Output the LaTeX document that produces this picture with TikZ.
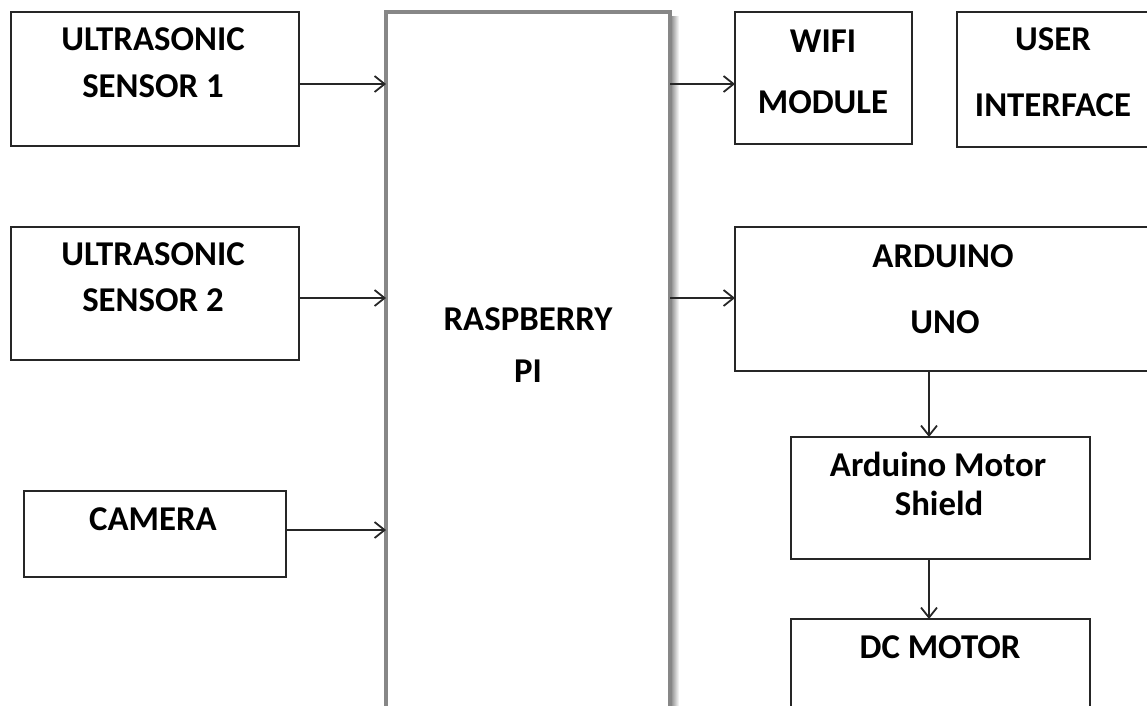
\documentclass[tikz,border=0pt]{standalone}
\usepackage{fontspec}
\setmainfont{Carlito}
\usetikzlibrary{arrows.meta}
\begin{document}
\begin{tikzpicture}[x=1pt,y=-1pt,
  blk/.style={draw=black!85,line width=2pt,fill=white,inner sep=0pt,outer sep=0pt,anchor=north west},
  pibox/.style={draw=black!47,line width=3.5pt,fill=white,inner sep=0pt,outer sep=0pt,anchor=north west},
  lbl/.style={font=\bfseries\fontsize{34.8}{40}\selectfont,anchor=base,inner sep=0pt},
  conn/.style={draw=black!85,line width=1.8pt,-{Straight Barb[length=10pt,width=16pt,line width=1.8pt]}}
]
\useasboundingbox (0,0) rectangle (1147,705);
\clip (0,0) rectangle (1147,705);
% shadow of the Raspberry Pi box
\shade[left color=black!45,right color=white] (671,16) rectangle (679,720);
% boxes
\node[pibox,minimum width=284,minimum height=720] (rpi) at (386,12) {};
\node[blk,minimum width=288,minimum height=134] (us1) at (11,12) {};
\node[blk,minimum width=288,minimum height=133] (us2) at (11,227) {};
\node[blk,minimum width=262,minimum height=86] (cam) at (24,491) {};
\node[blk,minimum width=177,minimum height=132] (wifi) at (735,12) {};
\node[blk,minimum width=210,minimum height=135] (ui) at (957,12) {};
\node[blk,minimum width=430,minimum height=144] (ard) at (735,227) {};
\node[blk,minimum width=299,minimum height=122] (shield) at (791,437) {};
\node[blk,minimum width=299,minimum height=110] (dcm) at (791,619) {};
% labels
\node[lbl] (us1a) at (153,50) {ULTRASONIC};
\node[lbl] (us1b) at (153,97) {SENSOR 1};
\node[lbl] (us2a) at (153,265) {ULTRASONIC};
\node[lbl] (us2b) at (153,311) {SENSOR 2};
\node[lbl] (camt) at (153,530) {CAMERA};
\node[lbl] (rpia) at (528,330) {RASPBERRY};
\node[lbl] (rpib) at (528,382) {PI};
\node[lbl] (wifia) at (823,52) {WIFI};
\node[lbl] (wifib) at (823,113) {MODULE};
\node[lbl] (uia) at (1053,50) {USER};
\node[lbl] (uib) at (1053,116) {INTERFACE};
\node[lbl] (arda) at (943,267) {ARDUINO};
\node[lbl] (ardb) at (945,333) {UNO};
\node[lbl] (shta) at (938,476) {Arduino Motor};
\node[lbl] (shtb) at (939,515) {Shield};
\node[lbl] (dcmt) at (940,658) {DC MOTOR};
% connectors
\draw[conn] ([yshift=-5pt]us1.east) -- ([yshift=-5pt]us1.east -| rpi.west);
\draw[conn] ([yshift=-4.5pt]us2.east) -- ([yshift=-4.5pt]us2.east -| rpi.west);
\draw[conn] ([yshift=4pt]cam.east) -- ([yshift=4pt]cam.east -| rpi.west);
\draw[conn] ([yshift=-6pt]rpi.east |- wifi.east) -- ([yshift=-6pt]wifi.west);
\draw[conn] ([yshift=1pt]rpi.east |- ard.east) -- ([yshift=1pt]ard.west);
\draw[conn] ([xshift=-11.5pt]shield.north |- ard.south) -- ([xshift=-11.5pt]shield.north);
\draw[conn] ([xshift=-11.5pt]shield.south) -- ([xshift=-11.5pt]dcm.north);
\end{tikzpicture}
\end{document}
